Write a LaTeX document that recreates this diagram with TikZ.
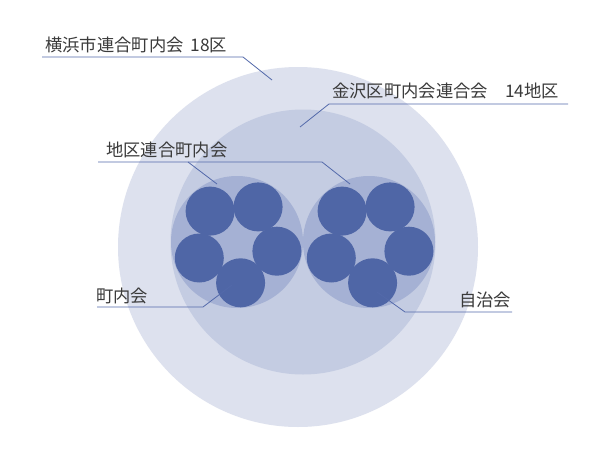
\documentclass[tikz,border=0pt]{standalone}
\usepackage{fontspec}
\newfontfamily\jp{Noto Sans CJK JP}
\definecolor{outerc}{HTML}{DDE1EE}
\definecolor{midc}{HTML}{C4CCE2}
\definecolor{grpc}{HTML}{A5B1D4}
\definecolor{smallc}{HTML}{4F66A6}
\definecolor{linec}{HTML}{5369AA}
\definecolor{txtc}{HTML}{3A3A3A}
\begin{document}
\begin{tikzpicture}[x=1pt,y=-1pt,
  disc/.style={circle, inner sep=0pt, draw=none},
  lbl/.style={anchor=west, inner sep=0pt, text=txtc, font=\jp\fontsize{17.3pt}{19pt}\selectfont},
  conn/.style={draw=linec, line width=0.8pt}]
\useasboundingbox (0,0) rectangle (600,450);
\fill[white] (0,0) rectangle (600,450);
% circles
\node[disc, fill=outerc, minimum size=360pt] (outer) at (298,247) {};
\node[disc, fill=midc, minimum size=265pt] (mid) at (303,242) {};
\node[disc, fill=grpc, minimum size=132pt] (gl) at (237,242) {};
\node[disc, fill=grpc, minimum size=132pt] (gr) at (369,242) {};
\tikzset{sm/.style={disc, fill=smallc, minimum size=49pt}}
\node[sm] (l1) at (240.6,282.8) {};
\node[sm] (l2) at (276.9,251.2) {};
\node[sm] (l3) at (258.1,206.9) {};
\node[sm] (l4) at (210.1,211.1) {};
\node[sm] (l5) at (199.3,258.0) {};
\node[sm] (r1) at (372.6,282.8) {};
\node[sm] (r2) at (408.9,251.2) {};
\node[sm] (r3) at (390.1,206.9) {};
\node[sm] (r4) at (342.1,211.1) {};
\node[sm] (r5) at (331.3,258.0) {};
% labels
\node[lbl] (t1) at (45,45) {横浜市連合町内会\hspace{3pt} 18区};
\node[lbl] (t2) at (332,90.5) {金沢区町内会連合会　14地区};
\node[lbl] (t3) at (106,150) {地区連合町内会};
\node[lbl] (t4) at (96,295.5) {町内会};
\node[lbl] (t5) at (459,299.5) {自治会};
% connector coordinates
\coordinate (a0) at (42,57); \coordinate (a1) at (243,57); \coordinate (a2) at (272,80);
\coordinate (b0) at (568,104); \coordinate (b1) at (329,104); \coordinate (b2) at (300,127);
\coordinate (c0) at (98,162); \coordinate (c1) at (322,162); \coordinate (c2) at (350,184);
\coordinate (c3) at (188,162); \coordinate (c4) at (217,184);
\coordinate (d0) at (97,307); \coordinate (d1) at (203,307); \coordinate (d2) at (232,285);
\coordinate (e0) at (512,312); \coordinate (e1) at (405,312); \coordinate (e2) at (377,292);
\draw[conn] (a0) -- (a1) -- (a2);
\draw[conn] (b0) -- (b1) -- (b2);
\draw[conn] (c0) -- (c1) -- (c2);
\draw[conn] (c3) -- (c4);
\draw[conn] (d0) -- (d1) -- (d2);
\draw[conn] (e0) -- (e1) -- (e2);
\end{tikzpicture}
\end{document}
